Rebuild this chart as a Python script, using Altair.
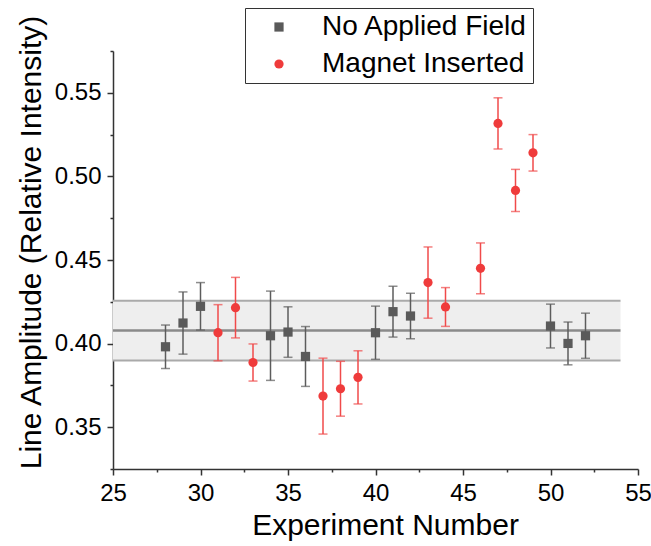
import altair as alt
import pandas as pd

# ---- data ----
gray_x = [28, 29, 30, 34, 35, 36, 40, 41, 42, 50, 51, 52]
gray_y = [0.3981, 0.4123, 0.4223, 0.4047, 0.4069, 0.3923, 0.4065, 0.4191, 0.4165, 0.4105, 0.4001, 0.4047]
gray_err = [0.0130, 0.0186, 0.0142, 0.0267, 0.0151, 0.0179, 0.0159, 0.0152, 0.0136, 0.0131, 0.0128, 0.0135]

red_x = [31, 32, 33, 37, 38, 39, 43, 44, 46, 47, 48, 49]
red_y = [0.4065, 0.4215, 0.3887, 0.3686, 0.3730, 0.3798, 0.4365, 0.4219, 0.4450, 0.5317, 0.4916, 0.5141]
red_err = [0.0168, 0.0181, 0.0111, 0.0227, 0.0164, 0.0159, 0.0213, 0.0116, 0.0152, 0.0153, 0.0126, 0.0109]

series_names = ["No Applied Field", "Magnet Inserted"]
band_x = [25, 54]
band_mean = [0.4078]
band_lo = [0.3899]
band_hi = [0.4257]

x_ticks = [25, 27.5, 30, 32.5, 35, 37.5, 40, 42.5, 45, 47.5, 50, 52.5, 55]
y_ticks = [0.325, 0.35, 0.375, 0.40, 0.425, 0.45, 0.475, 0.50, 0.525, 0.55, 0.575]

# ---- tables ----
pts = pd.DataFrame({
    "x": gray_x + red_x,
    "y": gray_y + red_y,
    "err": gray_err + red_err,
    "series": [series_names[0]] * len(gray_x) + [series_names[1]] * len(red_x),
})
band = pd.DataFrame({"x": [band_x[0]], "x2": [band_x[1]], "lo": band_lo, "hi": band_hi, "m": band_mean})

FONT = "Liberation Sans"
xscale = alt.Scale(domain=[25, 55], nice=False, zero=False)
yscale = alt.Scale(domain=[0.325, 0.575], nice=False, zero=False)

x_axis = alt.Axis(
    values=x_ticks,
    labelExpr="datum.value % 5 == 0 ? datum.label : ''",
    format="d",
    tickSize={"condition": {"test": "datum.value % 5 != 0", "value": 3}, "value": 6},
    grid=False, labelFontSize=24, labelFont=FONT, labelColor="black",
    labelPadding=6, title="Experiment Number", titleFontSize=30, titleFont=FONT,
    titleFontWeight="normal", titleColor="black", titlePadding=5,
    titleX=272, titleAnchor="middle",
    domainColor="#333", domainWidth=1.5, tickColor="#333", tickWidth=1.5,
    labelFlush=False, labelOverlap=False,
)
y_axis = alt.Axis(
    values=y_ticks,
    labelExpr="abs(datum.value*20 - round(datum.value*20)) < 0.01 ? format(datum.value, '.2f') : ''",
    tickSize={"condition": {"test": "abs(datum.value*20 - round(datum.value*20)) > 0.01", "value": 3}, "value": 6},
    grid=False, labelFontSize=24, labelFont=FONT, labelColor="black",
    labelPadding=6, title="Line Amplitude (Relative Intensity)", titleFontSize=30,
    titleFont=FONT, titleFontWeight="normal", titleColor="black", titlePadding=8,
    titleY=191, titleAnchor="middle",
    domainColor="#333", domainWidth=1.5, tickColor="#333", tickWidth=1.5,
    labelFlush=False, labelOverlap=False,
)

base_band = alt.Chart(band)
band_rect = base_band.mark_rect(color="#eeeeee", opacity=1).encode(
    x=alt.X("x:Q", scale=xscale, axis=x_axis), x2="x2:Q",
    y=alt.Y("lo:Q", scale=yscale, axis=y_axis), y2="hi:Q",
)
band_top = base_band.mark_rule(color="#aaaaaa", strokeWidth=2).encode(
    x=alt.X("x:Q", scale=xscale), x2="x2:Q", y=alt.Y("hi:Q", scale=yscale))
band_bot = base_band.mark_rule(color="#aaaaaa", strokeWidth=2).encode(
    x=alt.X("x:Q", scale=xscale), x2="x2:Q", y=alt.Y("lo:Q", scale=yscale))
band_mid = base_band.mark_rule(color="#8a8a8a", strokeWidth=2.5).encode(
    x=alt.X("x:Q", scale=xscale), x2="x2:Q", y=alt.Y("m:Q", scale=yscale))

base = alt.Chart(pts).transform_calculate(
    lo="datum.y - datum.err", hi="datum.y + datum.err"
)
err_color = alt.condition(
    f"datum.series == '{series_names[0]}'", alt.value("#5c5c5c"), alt.value("#f04a4a")
)
err_rule = base.mark_rule(strokeWidth=1.5).encode(
    x=alt.X("x:Q", scale=xscale), y=alt.Y("lo:Q", scale=yscale), y2="hi:Q", stroke=err_color,
)
cap_lo = base.mark_tick(orient="horizontal", size=9, thickness=1.5).encode(
    x=alt.X("x:Q", scale=xscale), y=alt.Y("lo:Q", scale=yscale), color=err_color,
)
cap_hi = base.mark_tick(orient="horizontal", size=9, thickness=1.5).encode(
    x=alt.X("x:Q", scale=xscale), y=alt.Y("hi:Q", scale=yscale), color=err_color,
)

legend = alt.Legend(
    orient="none", legendX=132, legendY=-43, title=None,
    labelFontSize=28, labelFont=FONT, labelColor="black", labelLimit=0,
    symbolSize=85, padding=5, rowPadding=9, symbolOffset=15, labelOffset=29,
    strokeColor="#333", fillColor="white", symbolStrokeWidth=0,
)
points = base.mark_point(filled=True, size=85, opacity=1).encode(
    x=alt.X("x:Q", scale=xscale), y=alt.Y("y:Q", scale=yscale),
    color=alt.Color("series:N", scale=alt.Scale(domain=series_names, range=["#5a5a5a", "#ef3b3b"]), legend=legend),
    shape=alt.Shape("series:N", scale=alt.Scale(domain=series_names, range=["square", "circle"]), legend=legend),
)

chart = alt.layer(band_rect, band_top, band_bot, band_mid, err_rule, cap_lo, cap_hi, points).properties(
    width=525, height=418,
    autosize=alt.AutoSizeParams(type="none"),
    padding={"left": 113, "top": 51, "right": 13, "bottom": 77},
    background="white",
).configure_view(stroke=None)

chart.save("out.html", embed_options={"renderer": "svg", "actions": False})
